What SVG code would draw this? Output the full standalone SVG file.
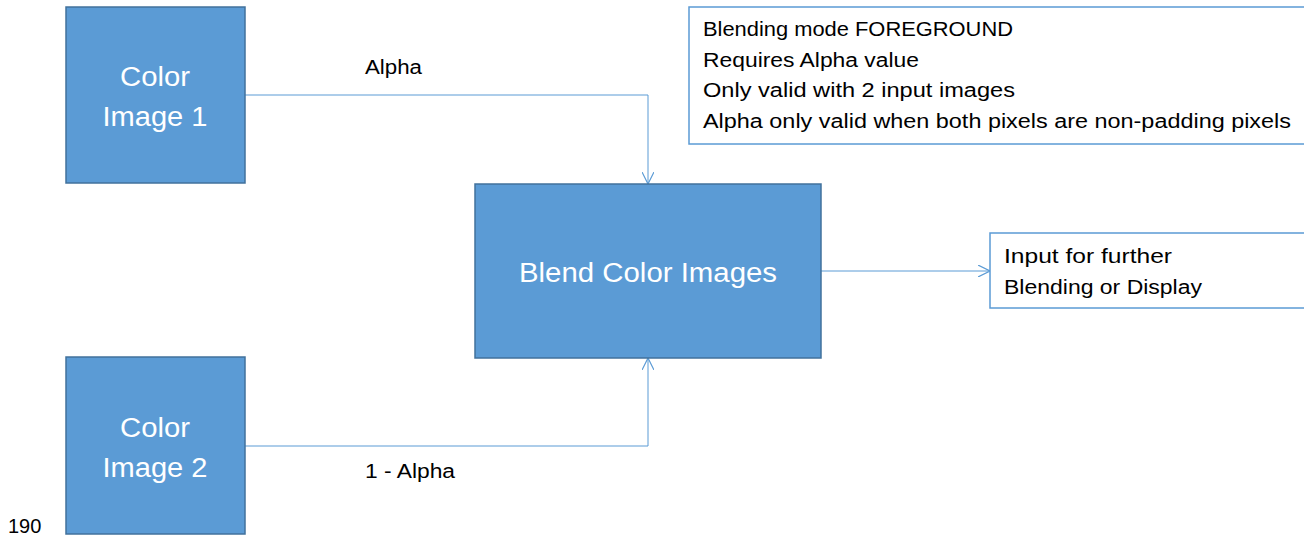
<svg xmlns="http://www.w3.org/2000/svg" width="1304" height="537" viewBox="0 0 1304 537">
<style>
.box{fill:#5B9BD5;stroke:#41719C;stroke-width:1.5}
.note{fill:#fff;stroke:#5B9BD5;stroke-width:1.5}
.wt{font-family:"Liberation Sans",Arial,sans-serif;font-size:27px;fill:#fff}
.bt{font-family:"Liberation Sans",Arial,sans-serif;font-size:20px;fill:#000}
.conn{fill:none;stroke:#5B9BD5;stroke-width:1}
</style>
<defs>
<marker id="arr" viewBox="0 0 10 10" refX="10" refY="5" markerWidth="12" markerHeight="12" markerUnits="userSpaceOnUse" orient="auto">
<path d="M0,0 L10,5 L0,10" fill="none" stroke="#5B9BD5" stroke-width="1"/>
</marker>
</defs>
<rect width="1304" height="537" fill="#fff"/>
<g id="connectors">
<path class="conn" d="M245,95 H648 V184" marker-end="url(#arr)"/>
<path class="conn" d="M245,446 H648 V358" marker-end="url(#arr)"/>
<path class="conn" d="M821,271 H990" marker-end="url(#arr)"/>
<text class="bt" x="365" y="74" textLength="57" lengthAdjust="spacingAndGlyphs">Alpha</text>
<text class="bt" x="365" y="478" textLength="90" lengthAdjust="spacingAndGlyphs">1 - Alpha</text>
</g>
<g id="img1">
<rect class="box" x="66" y="7" width="179" height="176"/>
<text class="wt" x="155" y="86" text-anchor="middle" textLength="70" lengthAdjust="spacingAndGlyphs">Color</text>
<text class="wt" x="155" y="126" text-anchor="middle" textLength="105" lengthAdjust="spacingAndGlyphs">Image 1</text>
</g>
<g id="img2">
<rect class="box" x="66" y="357" width="179" height="177"/>
<text class="wt" x="155" y="437" text-anchor="middle" textLength="70" lengthAdjust="spacingAndGlyphs">Color</text>
<text class="wt" x="155" y="477" text-anchor="middle" textLength="105" lengthAdjust="spacingAndGlyphs">Image 2</text>
</g>
<g id="blend">
<rect class="box" x="475" y="184" width="346" height="174"/>
<text class="wt" x="648" y="282" text-anchor="middle" textLength="258" lengthAdjust="spacingAndGlyphs">Blend Color Images</text>
</g>
<g id="info">
<rect class="note" x="689" y="7" width="625" height="137"/>
<text class="bt" x="703" y="36" textLength="310" lengthAdjust="spacingAndGlyphs">Blending mode FOREGROUND</text>
<text class="bt" x="703" y="67" textLength="216" lengthAdjust="spacingAndGlyphs">Requires Alpha value</text>
<text class="bt" x="703" y="97" textLength="312" lengthAdjust="spacingAndGlyphs">Only valid with 2 input images</text>
<text class="bt" x="703" y="128" textLength="588" lengthAdjust="spacingAndGlyphs">Alpha only valid when both pixels are non-padding pixels</text>
</g>
<g id="output">
<rect class="note" x="990" y="233" width="324" height="75"/>
<text class="bt" x="1004" y="263" textLength="168" lengthAdjust="spacingAndGlyphs">Input for further</text>
<text class="bt" x="1004" y="294" textLength="198" lengthAdjust="spacingAndGlyphs">Blending or Display</text>
</g>
<text x="8" y="533" font-family="Liberation Sans,Arial,sans-serif" font-size="20" fill="#000">190</text>
</svg>
